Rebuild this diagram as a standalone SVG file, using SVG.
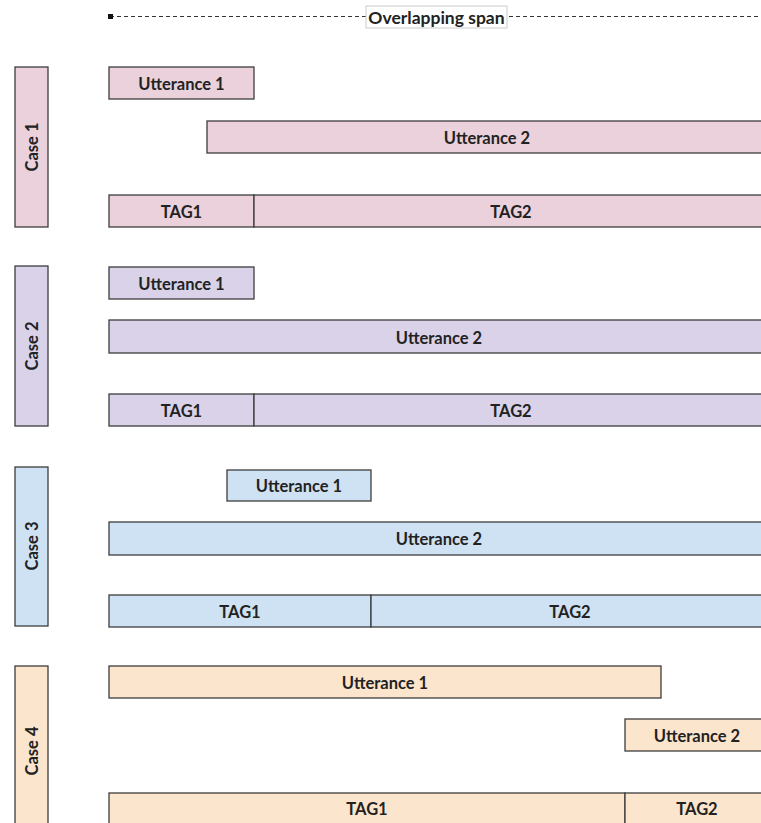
<svg xmlns="http://www.w3.org/2000/svg" width="761" height="823" viewBox="0 0 761 823">
<style>
.b{stroke:#3c3c3c;stroke-width:1.3}
.c1{fill:#ead1dc}.c2{fill:#d9d2e9}.c3{fill:#cfe2f3}.c4{fill:#fce5cd}
text{font-family:Lato,"Liberation Sans",sans-serif;font-weight:bold;font-size:16.5px;fill:#222;text-anchor:middle;dominant-baseline:central}
</style>
<rect width="761" height="823" fill="#fff"/>
<g id="connectors">
<line x1="110" y1="16.5" x2="761" y2="16.5" stroke="#333" stroke-width="1" stroke-dasharray="4,3"/>
<rect x="108" y="14" width="5" height="5" fill="#111"/>
</g>
<g id="span-label">
<rect x="366" y="6" width="141" height="22" fill="#fff" stroke="#ccc" stroke-width="1"/>
<text x="436.5" y="17" style="font-size:17.5px">Overlapping span</text>
</g>
<g id="case1">
<rect class="b c1" x="15" y="67" width="33" height="160"/>
<text transform="translate(31.5,147) rotate(-90)">Case 1</text>
<rect class="b c1" x="109" y="67" width="145" height="32"/>
<text x="181.5" y="83.5">Utterance 1</text>
<rect class="b c1" x="207" y="121" width="560" height="32"/>
<text x="487" y="137.5">Utterance 2</text>
<rect class="b c1" x="109" y="195" width="145" height="32"/>
<text x="181.5" y="211.5">TAG1</text>
<rect class="b c1" x="254" y="195" width="513" height="32"/>
<text x="511" y="211.5">TAG2</text>
</g>
<g id="case2">
<rect class="b c2" x="15" y="266" width="33" height="160"/>
<text transform="translate(31.5,346) rotate(-90)">Case 2</text>
<rect class="b c2" x="109" y="267" width="145" height="32"/>
<text x="181.5" y="283.5">Utterance 1</text>
<rect class="b c2" x="109" y="320" width="658" height="33"/>
<text x="439" y="337.5">Utterance 2</text>
<rect class="b c2" x="109" y="394" width="145" height="32"/>
<text x="181.5" y="410.5">TAG1</text>
<rect class="b c2" x="254" y="394" width="513" height="32"/>
<text x="511" y="410.5">TAG2</text>
</g>
<g id="case3">
<rect class="b c3" x="15" y="467" width="33" height="159"/>
<text transform="translate(31.5,546) rotate(-90)">Case 3</text>
<rect class="b c3" x="227" y="470" width="144" height="31"/>
<text x="299" y="486">Utterance 1</text>
<rect class="b c3" x="109" y="522" width="658" height="33"/>
<text x="439" y="539">Utterance 2</text>
<rect class="b c3" x="109" y="595" width="262" height="32"/>
<text x="240" y="611.5">TAG1</text>
<rect class="b c3" x="371" y="595" width="396" height="32"/>
<text x="570" y="611.5">TAG2</text>
</g>
<g id="case4">
<rect class="b c4" x="15" y="666" width="33" height="170"/>
<text transform="translate(31.5,751) rotate(-90)">Case 4</text>
<rect class="b c4" x="109" y="666" width="552" height="32"/>
<text x="385" y="682.5">Utterance 1</text>
<rect class="b c4" x="625" y="719" width="142" height="32"/>
<text x="697" y="735.5">Utterance 2</text>
<rect class="b c4" x="109" y="793" width="516" height="40"/>
<text x="367" y="808.5">TAG1</text>
<rect class="b c4" x="625" y="793" width="142" height="40"/>
<text x="697" y="808.5">TAG2</text>
</g>
</svg>
